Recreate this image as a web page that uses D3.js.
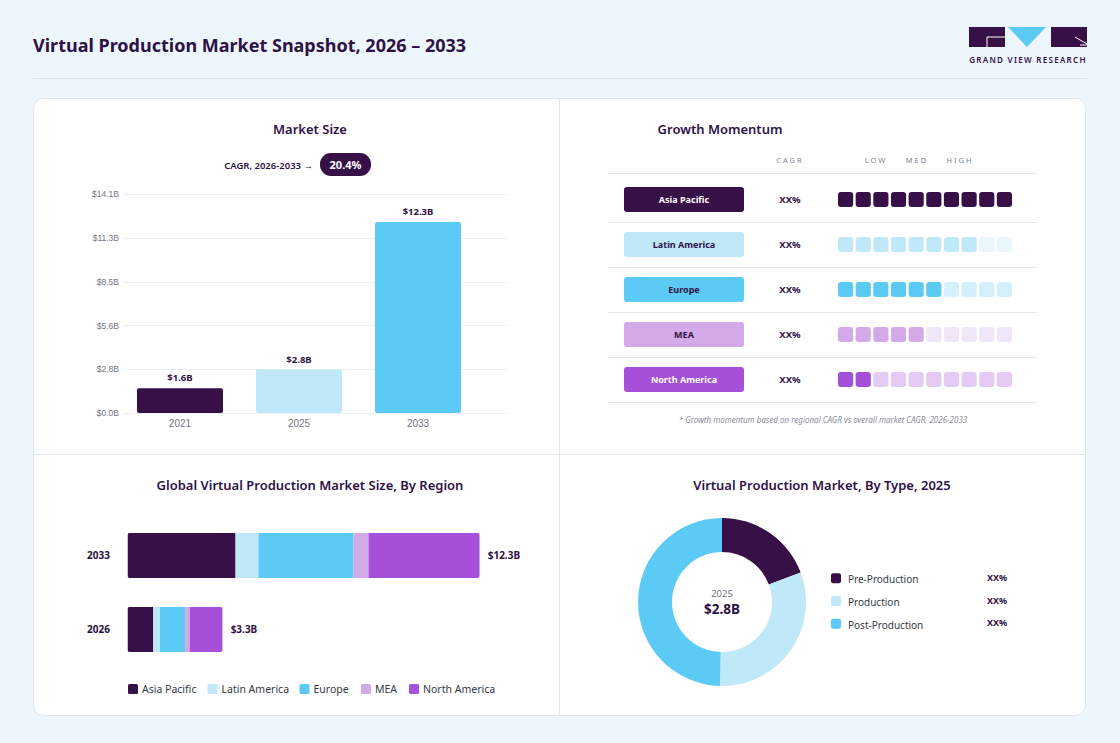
<!DOCTYPE html>
<html>
<head>
<meta charset="utf-8">
<script src="https://cdn.jsdelivr.net/npm/d3@7"></script>
<style>
  html, body { margin: 0; padding: 0; background: #eef6fd; }
  svg { display: block; font-family: "Segoe UI", "Noto Sans", "Open Sans", sans-serif; }
</style>
</head>
<body>
<svg id="chart"></svg>
<script>
// ---- data ----
const sizeYears = ["2021", "2025", "2033"];
const sizeValues = [1.6, 2.8, 12.3];
const sizeLabels = ["$1.6B", "$2.8B", "$12.3B"];
const yTicks = [0, 2.82, 5.64, 8.46, 11.28, 14.1];
const cagrText = "20.4%";

const regions = ["Asia Pacific", "Latin America", "Europe", "MEA", "North America"];
const regionColors = ["#371047", "#bfe9f9", "#5bcaf4", "#d4a9e8", "#a64fd8"];
const regionFaded = ["#371047", "#e9f7fd", "#d3f0fc", "#f1e5f8", "#e5cbf3"];
const momentumFilled = [10, 8, 6, 5, 2];
const momentumCagr = ["XX%", "XX%", "XX%", "XX%", "XX%"];
const momentumHeads = ["LOW", "MED", "HIGH"];

const stackYears = ["2033", "2026"];
const stack2033 = [3.77, 0.80, 3.32, 0.52, 3.88];
const stack2026 = [0.90, 0.23, 0.88, 0.16, 1.15];
const stackTotals = ["$12.3B", "$3.3B"];

const types = ["Pre-Production", "Production", "Post-Production"];
const typeShares = [19.3, 31.1, 49.6];
const typeColors = ["#371047", "#bfe9f9", "#5bcaf4"];
const typePct = ["XX%", "XX%", "XX%"];

const dark = "#2e1245";
const gray = "#6f7482";

const W = 1120, H = 743;
const svg = d3.select("#chart").attr("width", W).attr("height", H);

svg.append("rect").attr("width", W).attr("height", H).attr("fill", "#eef6fd");

// header
svg.append("text")
    .attr("x", 33).attr("y", 52)
    .attr("font-size", "18px").attr("font-weight", 700)
    .attr("fill", dark)
    .text("Virtual Production Market Snapshot, 2026 \u2013 2033");

svg.append("line")
    .attr("x1", 33).attr("x2", 1087).attr("y1", 78.5).attr("y2", 78.5)
    .attr("stroke", "#dde4ec").attr("stroke-width", 1);

// logo
const logo = svg.append("g");
logo.append("rect").attr("x", 969).attr("y", 27).attr("width", 36).attr("height", 20).attr("fill", "#371047");
logo.append("path").attr("d", "M987,37 H1005 M987,37 V47").attr("stroke", "#fff").attr("stroke-width", 1).attr("fill", "none");
logo.append("path").attr("d", "M1008,27 L1046,27 L1027,47 Z").attr("fill", "#5bcaf4");
logo.append("rect").attr("x", 1051).attr("y", 27).attr("width", 36).attr("height", 20).attr("fill", "#371047");
logo.append("path").attr("d", "M1075,37 L1087,44 M1080,45 H1087").attr("stroke", "#fff").attr("stroke-width", 1).attr("fill", "none");
logo.append("text")
    .attr("x", 1028).attr("y", 63)
    .attr("text-anchor", "middle")
    .attr("font-size", "8px").attr("font-weight", 600)
    .attr("letter-spacing", "1.3px")
    .attr("fill", dark)
    .text("GRAND VIEW RESEARCH");

// card
svg.append("rect")
    .attr("x", 33.5).attr("y", 98.5).attr("width", 1052).attr("height", 617)
    .attr("rx", 10).attr("fill", "#fff").attr("stroke", "#dfe5ec");
svg.append("line").attr("x1", 559.5).attr("x2", 559.5).attr("y1", 99).attr("y2", 715)
    .attr("stroke", "#e2e7ed");
svg.append("line").attr("x1", 34).attr("x2", 1085).attr("y1", 454.5).attr("y2", 454.5)
    .attr("stroke", "#e2e7ed");

function panelTitle(x, y, t) {
    svg.append("text")
        .attr("x", x).attr("y", y)
        .attr("text-anchor", "middle")
        .attr("font-size", "13px").attr("font-weight", 600)
        .attr("fill", dark)
        .text(t);
}

// ---- Market Size ----
panelTitle(310, 134, "Market Size");

svg.append("text")
    .attr("x", 313).attr("y", 168.5)
    .attr("text-anchor", "end")
    .attr("font-size", "9.5px").attr("font-weight", 600)
    .attr("fill", dark)
    .text("CAGR, 2026-2033 \u2192");
svg.append("rect")
    .attr("x", 320).attr("y", 153).attr("width", 51).attr("height", 23)
    .attr("rx", 11).attr("fill", "#371047");
svg.append("text")
    .attr("x", 345.5).attr("y", 168.5)
    .attr("text-anchor", "middle")
    .attr("font-size", "11px").attr("font-weight", 700)
    .attr("fill", "#fff")
    .text(cagrText);

const ySize = d3.scaleLinear().domain([0, 14.1]).range([413, 194]);
const xSize = d3.scaleBand().domain(sizeYears).range([104, 494]).padding(0.277);

const grid = svg.append("g");
yTicks.forEach(t => {
    grid.append("line")
        .attr("x1", 123).attr("x2", 507)
        .attr("y1", Math.round(ySize(t)) + 0.5).attr("y2", Math.round(ySize(t)) + 0.5)
        .attr("stroke", "#eceff3");
});
const yAxis = svg.append("g")
    .attr("transform", "translate(119,0)")
    .call(d3.axisLeft(ySize).tickValues(yTicks).tickSize(0).tickPadding(0)
        .tickFormat(d => "$" + d.toFixed(1) + "B"));
yAxis.select(".domain").remove();
yAxis.selectAll("text").attr("font-size", "8.5px").attr("fill", gray).attr("font-family", null);

svg.selectAll(".sizebar")
    .data(sizeValues)
    .join("rect")
    .attr("class", "sizebar")
    .attr("x", (d, i) => xSize(sizeYears[i]))
    .attr("y", d => ySize(d))
    .attr("width", xSize.bandwidth())
    .attr("height", d => ySize(0) - ySize(d))
    .attr("rx", 2)
    .attr("fill", (d, i) => regionColors[i]);

svg.selectAll(".sizelbl")
    .data(sizeValues)
    .join("text")
    .attr("class", "sizelbl")
    .attr("x", (d, i) => xSize(sizeYears[i]) + xSize.bandwidth() / 2)
    .attr("y", d => ySize(d) - 7)
    .attr("text-anchor", "middle")
    .attr("font-size", "9.5px").attr("font-weight", 700)
    .attr("fill", dark)
    .text((d, i) => sizeLabels[i]);

const xAxis = svg.append("g")
    .attr("transform", "translate(0,420)")
    .call(d3.axisBottom(xSize).tickSize(0).tickPadding(0));
xAxis.select(".domain").remove();
xAxis.selectAll("text").attr("font-size", "10px").attr("fill", gray).attr("font-family", null);

// ---- Growth Momentum ----
panelTitle(720, 134, "Growth Momentum");

const headG = svg.append("g")
    .attr("font-size", "7.5px").attr("fill", "#7b8190")
    .attr("letter-spacing", "2px").attr("text-anchor", "middle");
headG.append("text").attr("x", 790).attr("y", 163).text("CAGR");
const headX = [876, 917, 960];
momentumHeads.forEach((h, i) => headG.append("text").attr("x", headX[i]).attr("y", 163).text(h));

svg.append("line").attr("x1", 608).attr("x2", 1037).attr("y1", 173.5).attr("y2", 173.5)
    .attr("stroke", "#e2e7ed");

const yRow = d3.scaleBand().domain(regions).range([177, 402]);
const cells = d3.range(10);
const xCell = d3.scaleBand().domain(cells).range([838, 1012]).paddingInner(0.14);

regions.forEach((r, i) => {
    const cy = yRow(r) + yRow.bandwidth() / 2;
    const g = svg.append("g");
    g.append("rect")
        .attr("x", 624).attr("y", cy - 12.5).attr("width", 120).attr("height", 25)
        .attr("rx", 3).attr("fill", regionColors[i]);
    g.append("text")
        .attr("x", 684).attr("y", cy + 3.5)
        .attr("text-anchor", "middle")
        .attr("font-size", "9px").attr("font-weight", 700)
        .attr("fill", (i === 0 || i === 4) ? "#fff" : dark)
        .text(r);
    g.append("text")
        .attr("x", 790).attr("y", cy + 3.5)
        .attr("text-anchor", "middle")
        .attr("font-size", "9.5px").attr("font-weight", 700)
        .attr("fill", dark)
        .text(momentumCagr[i]);
    g.selectAll("rect.cell")
        .data(cells)
        .join("rect")
        .attr("class", "cell")
        .attr("x", c => xCell(c))
        .attr("y", cy - 7.5)
        .attr("width", xCell.bandwidth())
        .attr("height", 15)
        .attr("rx", 3)
        .attr("fill", c => c < momentumFilled[i] ? regionColors[i] : regionFaded[i]);
    g.append("line")
        .attr("x1", 608).attr("x2", 1037)
        .attr("y1", yRow(r) + yRow.bandwidth() + 0.5).attr("y2", yRow(r) + yRow.bandwidth() + 0.5)
        .attr("stroke", "#e2e7ed");
});

svg.append("text")
    .attr("x", 823).attr("y", 423)
    .attr("text-anchor", "middle")
    .attr("font-size", "8px").attr("font-style", "italic")
    .attr("fill", "#8a8f9b")
    .text("* Growth momentum based on regional CAGR vs overall market CAGR, 2026-2033");

// ---- By Region stacked bars ----
panelTitle(310, 490, "Global Virtual Production Market Size, By Region");

const xStack = d3.scaleLinear().domain([0, 12.3]).range([127.5, 480]);
const yStack = d3.scaleBand().domain(stackYears).range([518.5, 666.5]).paddingInner(0.39).paddingOuter(0.195);
const stackRows = [stack2033, stack2026];

stackRows.forEach((vals, j) => {
    const yr = stackYears[j];
    const y0 = yStack(yr);
    const starts = d3.cumsum([0].concat(vals));
    const clipId = "clip" + j;
    svg.append("clipPath").attr("id", clipId)
        .append("rect")
        .attr("x", xStack(0)).attr("y", y0)
        .attr("width", xStack(starts[vals.length]) - xStack(0))
        .attr("height", yStack.bandwidth())
        .attr("rx", 2);
    svg.append("g").attr("clip-path", "url(#" + clipId + ")")
        .selectAll("rect")
        .data(vals)
        .join("rect")
        .attr("x", (d, i) => xStack(starts[i]))
        .attr("y", y0)
        .attr("width", (d, i) => xStack(starts[i] + d) - xStack(starts[i]))
        .attr("height", yStack.bandwidth())
        .attr("fill", (d, i) => regionColors[i]);
    svg.append("text")
        .attr("x", 110).attr("y", y0 + yStack.bandwidth() / 2 + 3.5)
        .attr("text-anchor", "end")
        .attr("font-size", "10px").attr("font-weight", 700)
        .attr("fill", dark)
        .text(yr);
    svg.append("text")
        .attr("x", xStack(starts[vals.length]) + 8).attr("y", y0 + yStack.bandwidth() / 2 + 3.5)
        .attr("font-size", "10px").attr("font-weight", 700)
        .attr("fill", dark)
        .text(stackTotals[j]);
});

const legX = [128, 207.5, 299.5, 361, 409];
regions.forEach((r, i) => {
    svg.append("rect")
        .attr("x", legX[i]).attr("y", 684).attr("width", 10).attr("height", 10)
        .attr("rx", 1.5).attr("fill", regionColors[i]);
    svg.append("text")
        .attr("x", legX[i] + 14).attr("y", 693)
        .attr("font-size", "10.5px").attr("fill", "#333a45")
        .text(r);
});

// ---- Donut ----
panelTitle(822, 490, "Virtual Production Market, By Type, 2025");

const pie = d3.pie().sort(null).value(d => d);
const arc = d3.arc().innerRadius(50).outerRadius(84);
const donut = svg.append("g").attr("transform", "translate(722,602)");
donut.selectAll("path")
    .data(pie(typeShares))
    .join("path")
    .attr("d", arc)
    .attr("fill", (d, i) => typeColors[i]);
donut.append("text")
    .attr("y", -5).attr("text-anchor", "middle")
    .attr("font-size", "9.5px").attr("fill", gray)
    .text("2025");
donut.append("text")
    .attr("y", 12).attr("text-anchor", "middle")
    .attr("font-size", "13.5px").attr("font-weight", 700)
    .attr("fill", dark)
    .text("$2.8B");

const typeY = d3.scaleBand().domain(types).range([568, 636]);
types.forEach((t, i) => {
    const cy = typeY(t) + typeY.bandwidth() / 2;
    svg.append("rect")
        .attr("x", 831).attr("y", cy - 6).attr("width", 10).attr("height", 10)
        .attr("rx", 2).attr("fill", typeColors[i]);
    svg.append("text")
        .attr("x", 848).attr("y", cy + 4)
        .attr("font-size", "10px").attr("fill", "#333a45")
        .text(t);
    svg.append("text")
        .attr("x", 987).attr("y", cy + 1.5)
        .attr("font-size", "9px").attr("font-weight", 700)
        .attr("fill", dark)
        .text(typePct[i]);
});
</script>
</body>
</html>
